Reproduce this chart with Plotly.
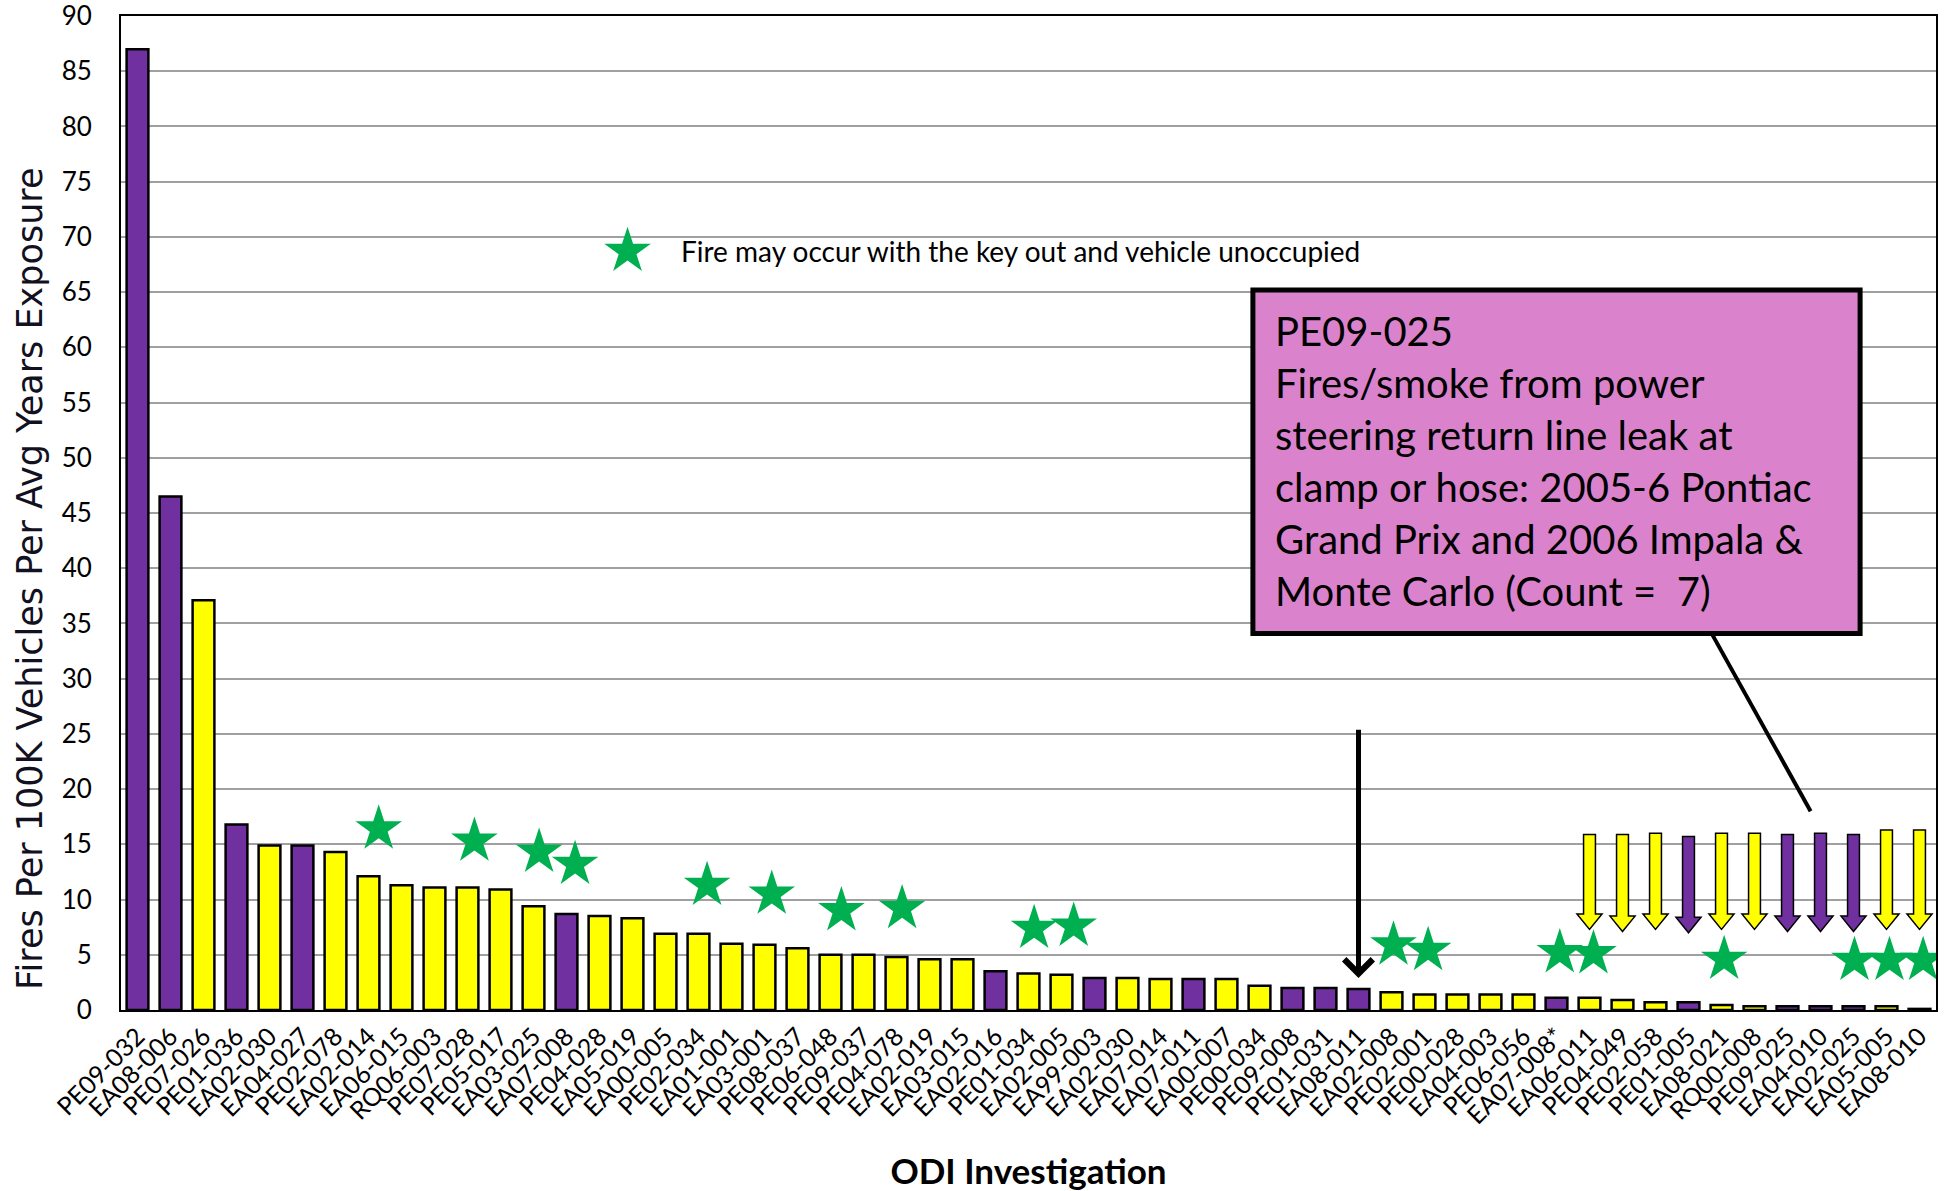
import plotly.graph_objects as go

labels = ["PE09-032","EA08-006","PE07-026","PE01-036","EA02-030","EA04-027","PE02-078","EA02-014",
          "EA06-015","RQ06-003","PE07-028","PE05-017","EA03-025","EA07-008","PE04-028","EA05-019",
          "EA00-005","PE02-034","EA01-001","EA03-001","PE08-037","PE06-048","PE09-037","PE04-078",
          "EA02-019","EA03-015","EA02-016","PE01-034","EA02-005","EA99-003","EA02-030","EA07-014",
          "EA07-011","EA00-007","PE00-034","PE09-008","PE01-031","EA08-011","EA02-008","PE02-001",
          "PE00-028","EA04-003","PE06-056","EA07-008*","EA06-011","PE04-049","PE02-058","PE01-005",
          "EA08-021","RQ00-008","PE09-025","EA04-010","EA02-025","EA05-005","EA08-010"]

values = [87.0, 46.5, 37.1, 16.8, 14.9, 14.9, 14.3, 12.1,
          11.3, 11.1, 11.1, 10.9, 9.4, 8.7, 8.5, 8.3,
          6.9, 6.9, 6.0, 5.9, 5.6, 5.0, 5.0, 4.8,
          4.6, 4.6, 3.5, 3.3, 3.2, 2.9, 2.9, 2.8,
          2.8, 2.8, 2.2, 2.0, 2.0, 1.9, 1.6, 1.4,
          1.4, 1.4, 1.4, 1.1, 1.1, 0.9, 0.7, 0.7,
          0.45, 0.35, 0.35, 0.35, 0.35, 0.35, 0.1]

# P = purple, Y = yellow
groups = list("PPYPYPYY" "YYYYYPYY" "YYYYYYYY" "YYPYYPYY" "PYYPPPYY" "YYYPYYYP" "YYPPPYY")

# stars: "fire may occur with key out and vehicle unoccupied" (positions in bar units)
star_x = [7.31, 10.21, 12.17, 13.26, 17.26, 19.22, 21.33, 23.17, 27.17, 28.37,
          38.06, 39.11, 43.10, 44.12, 48.08, 52.03, 53.09, 54.11]
star_y = [16.4, 15.3, 14.3, 13.2, 11.3, 10.5, 9.0, 9.2, 7.4, 7.6,
          5.9, 5.4, 5.2, 5.1, 4.6, 4.5, 4.5, 4.5]

# down arrows highlighting the lowest-rate investigations
arrow_idx = list(range(44, 55))
arrow_top = [15.9, 15.9, 16.0, 15.7, 16.0, 16.0, 15.9, 16.0, 15.9, 16.3, 16.3]
arrow_tip = [7.3, 7.1, 7.3, 7.0, 7.3, 7.3, 7.1, 7.1, 7.1, 7.3, 7.3]

PURPLE = "#7030A0"
YELLOW = "#FFFF00"
GREEN = "#00B050"
colors = [PURPLE if g == "P" else YELLOW for g in groups]
x = list(range(len(labels)))

fig = go.Figure()
fig.add_trace(go.Bar(x=x, y=values, width=0.66, marker=dict(color=colors, line=dict(color="black", width=2.5)),
                     showlegend=False, hoverinfo="x+y"))
fig.add_trace(go.Scatter(x=star_x, y=star_y, mode="markers",
                         marker=dict(symbol="star", size=35, color=GREEN, line=dict(width=0)),
                         showlegend=False))
# legend star
fig.add_trace(go.Scatter(x=[14.85], y=[68.7], mode="markers",
                         marker=dict(symbol="star", size=35, color=GREEN, line=dict(width=0)),
                         showlegend=False))

shapes = []
hw, hh, head = 0.18, 0.38, 1.4
for i, t, b in zip(arrow_idx, arrow_top, arrow_tip):
    c = colors[i]
    p = (f"M {i-hw},{t} L {i+hw},{t} L {i+hw},{b+head} L {i+hh},{b+head} L {i},{b} "
         f"L {i-hh},{b+head} L {i-hw},{b+head} Z")
    shapes.append(dict(type="path", path=p, xref="x", yref="y", fillcolor=c,
                       line=dict(color="black", width=1.5), layer="above"))

# callout box
shapes.append(dict(type="rect", xref="x", yref="y", x0=33.8, x1=52.2, y0=34.1, y1=65.2,
                   fillcolor="#DA83CC", line=dict(color="black", width=5), layer="above"))
shapes.append(dict(type="line", xref="x", yref="y", x0=47.7, y0=34.1, x1=50.7, y1=18.0,
                   line=dict(color="black", width=4), layer="above"))

annotations = [
    dict(x=16.4, y=68.7, xref="x", yref="y", text="Fire may occur with the key out and vehicle unoccupied",
         showarrow=False, xanchor="left", yanchor="middle", font=dict(family="Lato", size=28, color="black")),
    dict(x=34.4, y=63.8, xref="x", yref="y", xanchor="left", yanchor="top", align="left", showarrow=False,
         text=("PE09-025<br>Fires/smoke from power<br>steering return line leak at<br>"
               "clamp or hose: 2005-6 Pontiac<br>Grand Prix and 2006 Impala &<br>Monte Carlo (Count =  7)"),
         font=dict(family="Lato", size=40, color="black")),
    dict(x=37, y=2.9, xref="x", yref="y", ax=37, ay=25.5, axref="x", ayref="y", showarrow=True,
         arrowhead=4, arrowsize=1.1, arrowwidth=5, arrowcolor="black", standoff=0, text=""),
    # y-axis title
    dict(x=0, y=0.4336, xref="paper", yref="paper", xanchor="center", yanchor="middle", xshift=-91,
         textangle=-90, showarrow=False, text="Fires Per 100K Vehicles Per Avg Years Exposure",
         font=dict(family="DejaVu Sans", size=35, color="#111122")),
]

fig.update_layout(
    width=1952, height=1191,
    margin=dict(l=121, r=16, t=16, b=181),
    plot_bgcolor="white", paper_bgcolor="white",
    shapes=shapes, annotations=annotations,
    font=dict(family="Lato", color="black"),
)
fig.update_xaxes(tickmode="array", tickvals=x, ticktext=labels, tickangle=-45, automargin=False,
                 range=[-0.5, 54.5], showgrid=False, showline=True, linecolor="black", linewidth=2,
                 mirror=True, ticks="", tickfont=dict(family="Lato", size=25, color="black"),
                 title=dict(text="<b>ODI Investigation</b>", font=dict(family="Lato", size=35, color="black"),
                            standoff=33))
fig.update_yaxes(range=[0, 90], dtick=5, showgrid=True, gridcolor="#A0A0A0", gridwidth=2, automargin=False,
                 showline=True, linecolor="black", linewidth=2, mirror=True, zeroline=False,
                 ticks="", ticklabelstandoff=22, ticklabeloverflow="allow",
                 tickfont=dict(family="Lato", size=26, color="black"))

fig.write_html("out.html", config={"displayModeBar": False},
               post_script="document.body.style.margin='0';document.body.style.overflow='hidden';")
